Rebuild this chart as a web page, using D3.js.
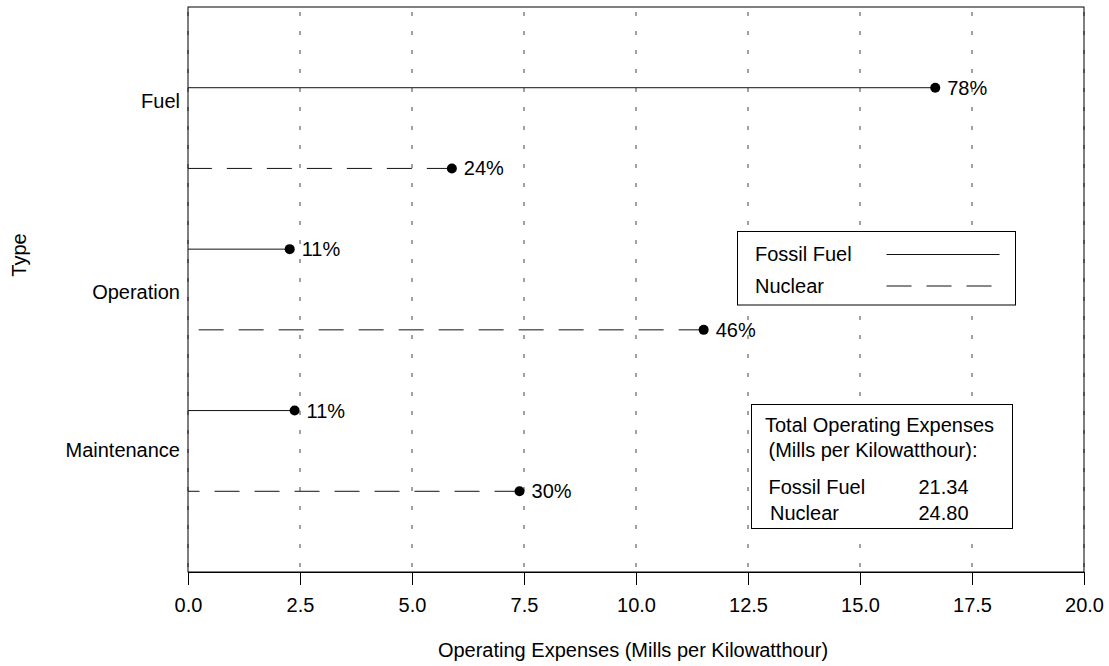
<!DOCTYPE html>
<html>
<head>
<meta charset="utf-8">
<script src="https://cdn.jsdelivr.net/npm/d3@7"></script>
<style>
  body { margin: 0; background: #fff; overflow: hidden; }
  svg { display: block; }
  text { font-family: "Liberation Sans", Arial, sans-serif; font-size: 20px; fill: #000; }
</style>
</head>
<body>
<script>
// chart data
var types = ['Fuel', 'Operation', 'Maintenance'];
var typeTickAt = [0.16, 2.53, 4.49];          // where the type labels sit on the row axis
var fossilValues = [16.68, 2.27, 2.38];
var nuclearValues = [5.89, 11.51, 7.40];
var fossilPct = ['78%', '11%', '11%'];
var nuclearPct = ['24%', '46%', '30%'];
var seriesNames = ['Fossil Fuel', 'Nuclear'];
var totalValues = ['21.34', '24.80'];
var xTicks = [0, 2.5, 5, 7.5, 10, 12.5, 15, 17.5, 20];

var width = 1109;
var height = 666;

var margin = {
    top: 7,
    left: 188,
    right: 25,
    bottom: 94
};

var innerWidth = width - margin.left - margin.right;
var innerHeight = height - margin.top - margin.bottom;

var svg = d3.select('body').append('svg')
    .attr('width', width)
    .attr('height', height);

var g = svg.append('g')
    .attr('transform', 'translate(' + margin.left + ',' + margin.top + ')');

var x = d3.scaleLinear()
    .domain([0, 20])
    .range([0, innerWidth]);

// rows: fossil of type i at 2i, nuclear at 2i+1
var y = d3.scaleLinear()
    .domain([-1, 6])
    .range([0, innerHeight]);

// dotted grid
g.selectAll('.grid')
    .data(xTicks)
    .join('line')
    .attr('class', 'grid')
    .attr('x1', function (d) { return x(d); })
    .attr('x2', function (d) { return x(d); })
    .attr('y1', 0)
    .attr('y2', innerHeight)
    .attr('stroke', '#444')
    .attr('stroke-width', 1)
    .attr('stroke-dasharray', '4,15')
    .attr('stroke-dashoffset', 14);

// frame
g.append('rect')
    .attr('x', 0)
    .attr('y', 0)
    .attr('width', innerWidth)
    .attr('height', innerHeight)
    .attr('fill', 'none')
    .attr('stroke', '#000')
    .attr('stroke-width', 1);

// x axis
var xaxis = d3.axisBottom(x)
    .tickValues(xTicks)
    .tickFormat(d3.format('.1f'))
    .tickSize(13)
    .tickSizeOuter(0)
    .tickPadding(12.5);

var xg = g.append('g')
    .attr('transform', 'translate(0,' + innerHeight + ')')
    .call(xaxis)
    .attr('font-size', null)
    .attr('font-family', null)
    .attr('fill', null);
xg.selectAll('text').attr('fill', '#000');
xg.selectAll('line, path').attr('stroke', '#000');

// y axis (type labels only)
var yaxis = d3.axisLeft(y)
    .tickValues(typeTickAt)
    .tickFormat(function (d, i) { return types[i]; })
    .tickSize(0)
    .tickPadding(8);

var yg = g.append('g')
    .call(yaxis)
    .attr('font-size', null)
    .attr('font-family', null)
    .attr('fill', null);
yg.select('.domain').remove();
yg.selectAll('text').attr('fill', '#000');

// rows
var rows = [];
types.forEach(function (t, i) {
    rows.push({ row: 2 * i, value: fossilValues[i], pct: fossilPct[i], dash: null });
    rows.push({ row: 2 * i + 1, value: nuclearValues[i], pct: nuclearPct[i], dash: '25,15' });
});

g.selectAll('.stem')
    .data(rows)
    .join('line')
    .attr('class', 'stem')
    .attr('x1', function (d) { return x(d.value); })
    .attr('x2', x(0))
    .attr('y1', function (d) { return y(d.row); })
    .attr('y2', function (d) { return y(d.row); })
    .attr('stroke', '#111')
    .attr('stroke-width', 1)
    .attr('stroke-dasharray', function (d) { return d.dash; });

g.selectAll('.dot')
    .data(rows)
    .join('circle')
    .attr('class', 'dot')
    .attr('cx', function (d) { return x(d.value); })
    .attr('cy', function (d) { return y(d.row); })
    .attr('r', 5)
    .attr('fill', '#000');

g.selectAll('.pct')
    .data(rows)
    .join('text')
    .attr('class', 'pct')
    .attr('x', function (d) { return x(d.value) + 12; })
    .attr('y', function (d) { return y(d.row); })
    .attr('dy', '0.35em')
    .text(function (d) { return d.pct; });

// axis titles
svg.append('text')
    .attr('x', 633)
    .attr('y', 657)
    .attr('text-anchor', 'middle')
    .text('Operating Expenses (Mills per Kilowatthour)');

svg.append('text')
    .attr('transform', 'translate(26,255) rotate(-90)')
    .attr('text-anchor', 'middle')
    .text('Type');

// series legend
var leg = svg.append('g').attr('transform', 'translate(737.5,231.5)');
leg.append('rect')
    .attr('width', 278)
    .attr('height', 73.5)
    .attr('fill', '#fff')
    .attr('stroke', '#000');
leg.selectAll('.lt')
    .data(seriesNames)
    .join('text')
    .attr('class', 'lt')
    .attr('x', 17.5)
    .attr('y', function (d, i) { return 29 + i * 32; })
    .text(function (d) { return d; });
leg.selectAll('.ll')
    .data(seriesNames)
    .join('line')
    .attr('class', 'll')
    .attr('x1', 149)
    .attr('x2', 262)
    .attr('y1', function (d, i) { return 23 + i * 31.5; })
    .attr('y2', function (d, i) { return 23 + i * 31.5; })
    .attr('stroke', '#111')
    .attr('stroke-dasharray', function (d, i) { return i ? '25,15' : null; });

// totals box
var tot = svg.append('g').attr('transform', 'translate(751.5,404.5)');
tot.append('rect')
    .attr('width', 261)
    .attr('height', 124)
    .attr('fill', '#fff')
    .attr('stroke', '#000');
tot.append('text').attr('x', 13.5).attr('y', 27).text('Total Operating Expenses');
tot.append('text').attr('x', 17).attr('y', 52).text('(Mills per Kilowatthour):');
tot.selectAll('.tn')
    .data(seriesNames)
    .join('text')
    .attr('class', 'tn')
    .attr('x', function (d, i) { return 17 + i * 1.5; })
    .attr('y', function (d, i) { return 89.5 + i * 25.5; })
    .text(function (d) { return d; });
tot.selectAll('.tv')
    .data(totalValues)
    .join('text')
    .attr('class', 'tv')
    .attr('x', 167)
    .attr('y', function (d, i) { return 89.5 + i * 25.5; })
    .text(function (d) { return d; });
</script>
</body>
</html>
